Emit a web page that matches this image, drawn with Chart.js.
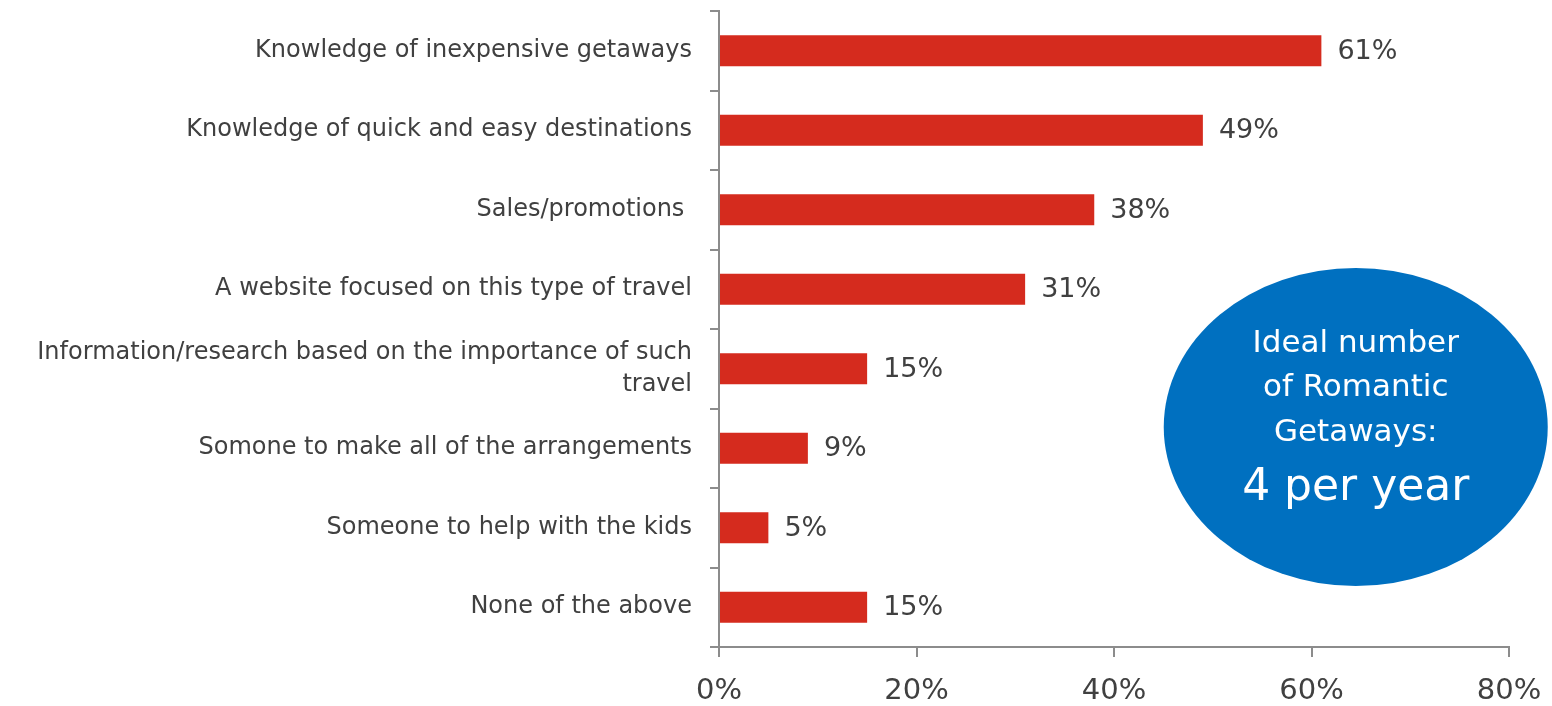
<!DOCTYPE html>
<html>
<head>
<meta charset="utf-8">
<script src="https://cdn.jsdelivr.net/npm/chart.js@4/dist/chart.umd.min.js"></script>
<style>
  html, body { margin: 0; padding: 0; background: #ffffff; }
  #wrap { position: relative; width: 1552px; height: 706px; }
</style>
</head>
<body>
<div id="wrap"><canvas id="chart"></canvas></div>
<script>
// Categories (top to bottom) and share of respondents
const categories = [
  'Knowledge of inexpensive getaways',
  'Knowledge of quick and easy destinations',
  'Sales/promotions ',
  'A website focused on this type of travel',
  ['Information/research based on the importance of such', 'travel'],
  'Somone to make all of the arrangements',
  'Someone to help with the kids',
  'None of the above'
];
const shares = [61, 49, 38, 31, 15, 9, 5, 15];
const xTicks = [0, 20, 40, 60, 80];
const calloutLines = ['Ideal number', 'of Romantic', 'Getaways:'];
const calloutHeadline = '4 per year';

const FONT = "'DejaVu Sans', sans-serif";
const TEXT = '#404040';
const AXIS = '#8c8c8c';

// Percent labels at the end of each bar
const valueLabels = {
  id: 'valueLabels',
  afterDatasetsDraw(chart) {
    const ctx = chart.ctx;
    const meta = chart.getDatasetMeta(0);
    ctx.save();
    ctx.font = '27px ' + FONT;
    ctx.fillStyle = TEXT;
    ctx.textBaseline = 'middle';
    ctx.textAlign = 'left';
    meta.data.forEach((bar, i) => {
      ctx.fillText(shares[i] + '%', bar.x + 16, bar.y + 1);
    });
    ctx.restore();
  }
};

// Blue callout ellipse on the right
const callout = {
  id: 'callout',
  afterDraw(chart) {
    const ctx = chart.ctx;
    const area = chart.chartArea;
    const w = area.right - area.left;
    const h = area.bottom - area.top;
    const cx = area.left + w * 0.806;
    const cy = area.top + h * 0.654;
    ctx.save();
    ctx.fillStyle = '#0070c0';
    ctx.beginPath();
    ctx.ellipse(cx, cy, 192, 159, 0, 0, Math.PI * 2);
    ctx.fill();
    ctx.fillStyle = '#ffffff';
    ctx.textAlign = 'center';
    ctx.textBaseline = 'middle';
    ctx.font = '31px ' + FONT;
    calloutLines.forEach((t, i) => ctx.fillText(t, cx, cy - 83 + i * 44.5));
    ctx.font = '44px ' + FONT;
    ctx.fillText(calloutHeadline, cx, cy + 62);
    ctx.restore();
  }
};

new Chart(document.getElementById('chart'), {
  type: 'bar',
  data: {
    labels: categories,
    datasets: [{
      data: shares,
      backgroundColor: '#d52b1e',
      barPercentage: 0.39,
      categoryPercentage: 1.0
    }]
  },
  options: {
    indexAxis: 'y',
    responsive: true,
    maintainAspectRatio: false,
    animation: false,
    layout: { padding: { top: 11, right: 43, left: 0, bottom: 0 } },
    plugins: { legend: { display: false }, tooltip: { enabled: false } },
    scales: {
      x: {
        min: 0, max: 80,
        afterBuildTicks(scale) { scale.ticks = xTicks.map(v => ({ value: v })); },
        afterFit(scale) { scale.height = 59; scale.paddingLeft = 0; scale.paddingRight = 0; },
        grid: { drawOnChartArea: false, tickLength: 10, color: AXIS, lineWidth: 2 },
        border: { color: AXIS, width: 2 },
        ticks: {
          padding: 17,
          color: TEXT,
          font: { family: FONT, size: 29 },
          callback: v => v + '%'
        }
      },
      y: {
        afterFit(scale) { scale.width = 719; scale.paddingTop = 0; scale.paddingBottom = 0; },
        grid: { offset: true, drawOnChartArea: false, tickLength: 9, color: AXIS, lineWidth: 2 },
        border: { color: AXIS, width: 2 },
        ticks: {
          padding: 18,
          color: TEXT,
          font: { family: FONT, size: 24, lineHeight: 1.33 },
          autoSkip: false
        }
      }
    }
  },
  plugins: [valueLabels, callout]
});
</script>
</body>
</html>
